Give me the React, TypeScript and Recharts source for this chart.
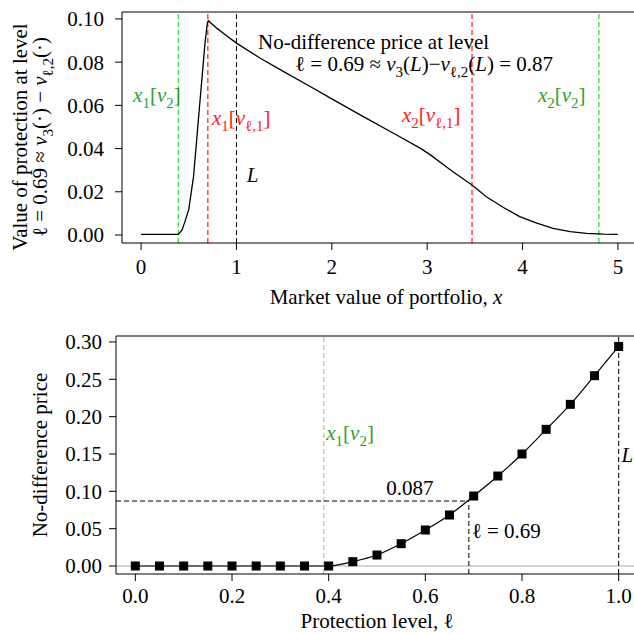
import React from 'react'
import { LineChart, Line, XAxis, YAxis, ReferenceLine, ReferenceDot } from 'recharts'

const FONT = 'Liberation Serif, Times New Roman, DejaVu Serif, serif'
const RED = '#ff1a1a'
const GREEN_LINE = '#2fd42f'
const GREEN_TEXT = '#2ca02c'
const FS = 21
const SUB = 15

// top panel: value of protection against market value x
const marketX = [0, 0.39, 0.43, 0.46, 0.5, 0.55, 0.58, 0.61, 0.64, 0.67, 0.695, 0.705, 0.8, 0.9, 1.0, 1.25, 1.5, 1.75, 2.0, 2.33, 2.68, 2.93, 3.03, 3.27, 3.47, 3.62, 3.8, 3.97, 4.15, 4.32, 4.5, 4.67, 4.85, 5.0]
const protectionValue = [0.0003, 0.0003, 0.0023, 0.0062, 0.0118, 0.027, 0.0424, 0.058, 0.0733, 0.0887, 0.098, 0.0992, 0.0955, 0.0921, 0.0888, 0.0818, 0.0755, 0.0693, 0.063, 0.0548, 0.0463, 0.0401, 0.0372, 0.0293, 0.0231, 0.0177, 0.0127, 0.0085, 0.0055, 0.0031, 0.0016, 0.0008, 0.0004, 0.0003]
const topXTicks = [0, 1, 2, 3, 4, 5]
const topYTicks = [0, 0.02, 0.04, 0.06, 0.08, 0.1]
const topXDomain = [-0.2, 5.2]
const topYDomain = [-0.0037, 0.1032]

// bottom panel: no-difference price against protection level
const levels = [0, 0.05, 0.1, 0.15, 0.2, 0.25, 0.3, 0.35, 0.4, 0.45, 0.5, 0.55, 0.6, 0.65, 0.7, 0.75, 0.8, 0.85, 0.9, 0.95, 1.0]
const noDiffPrice = [0, 0, 0, 0, 0, 0, 0, 0, 0, 0.0058, 0.0147, 0.0299, 0.0482, 0.0683, 0.0937, 0.1205, 0.15, 0.183, 0.2165, 0.2549, 0.294]
const bottomXTicks = [0, 0.2, 0.4, 0.6, 0.8, 1]
const bottomYTicks = [0, 0.05, 0.1, 0.15, 0.2, 0.25, 0.3]
const bottomXDomain = [-0.04, 1.04]
const bottomYDomain = [-0.0107, 0.308]

const topData = marketX.map((x, i) => ({ x, v: protectionValue[i] }))
const bottomData = levels.map((l, i) => ({ l, p: noDiffPrice[i] }))

const dash = '5 3'

const note = (content: React.ReactNode, fill = '#000') => (props: any) => {
  const vb = props.viewBox || {}
  return (
    <text x={vb.x} y={vb.y} fill={fill} fontSize={FS} fontFamily={FONT}>
      {content}
    </text>
  )
}

const I = ({ children }: { children: React.ReactNode }) => <tspan fontStyle="italic">{children}</tspan>

// x_i[v_2]
const xv2 = (i: string) => (
  <>
    <I>x</I>
    <tspan dy={6} fontSize={SUB}>{i}</tspan>
    <tspan dy={-6}>[</tspan>
    <I>v</I>
    <tspan dy={6} fontSize={SUB}>2</tspan>
    <tspan dy={-6}>]</tspan>
  </>
)

// x_i[v_{l,1}]
const xvl1 = (i: string) => (
  <>
    <I>x</I>
    <tspan dy={6} fontSize={SUB}>{i}</tspan>
    <tspan dy={-6}>[</tspan>
    <I>v</I>
    <tspan dy={6} fontSize={SUB}>ℓ,1</tspan>
    <tspan dy={-6}>]</tspan>
  </>
)

const TopYLabel = () => (
  <g fontFamily={FONT} fontSize={FS} fill="#000">
    <text x={27} y={137} textAnchor="middle" transform="rotate(-90, 27, 137)">
      Value of protection at level
    </text>
    <text x={47} y={137} textAnchor="middle" transform="rotate(-90, 47, 137)">
      ℓ = 0.69 ≈ <I>v</I>
      <tspan dy={6} fontSize={SUB}>3</tspan>
      <tspan dy={-6}>(·) − </tspan>
      <I>v</I>
      <tspan dy={6} fontSize={SUB}>ℓ,2</tspan>
      <tspan dy={-6}>(·)</tspan>
    </text>
  </g>
)

const TopXLabel = () => (
  <text x={386} y={304} textAnchor="middle" fontFamily={FONT} fontSize={FS} fill="#000">
    Market value of portfolio, <I>x</I>
  </text>
)

const BottomYLabel = () => (
  <text x={47} y={145} textAnchor="middle" transform="rotate(-90, 47, 145)" fontFamily={FONT} fontSize={FS} fill="#000">
    No-difference price
  </text>
)

const BottomXLabel = () => (
  <text x={377} y={318} textAnchor="middle" fontFamily={FONT} fontSize={FS} fill="#000">
    Protection level, ℓ
  </text>
)

const Square = (props: any) => {
  const { cx, cy, index } = props
  if (cx == null || cy == null) return <g key={index} />
  return <rect key={index} x={cx - 4.5} y={cy - 4.5} width={9} height={9} fill="#000" />
}

const tickStyle = { fontSize: FS, fill: '#000', fontFamily: FONT }

export default function App() {
  return (
    <div
      style={{
        position: 'fixed',
        left: 0,
        top: 0,
        width: 634,
        height: 634,
        overflow: 'hidden',
        background: '#fff',
        fontFamily: FONT,
      }}
    >
      <LineChart width={640} height={310} data={topData} margin={{ top: 12, right: 3, bottom: 0, left: 0 }}>
        <XAxis
          dataKey="x"
          type="number"
          domain={topXDomain}
          allowDataOverflow
          ticks={topXTicks}
          interval={0}
          height={67}
          tickSize={7}
          tickMargin={9}
          tick={tickStyle}
          stroke="#000"
          label={TopXLabel}
        />
        <YAxis
          type="number"
          domain={topYDomain}
          allowDataOverflow
          ticks={topYTicks}
          interval={0}
          width={122}
          tickSize={7}
          tickMargin={11}
          tick={tickStyle}
          tickFormatter={(v: number) => v.toFixed(2)}
          stroke="#000"
          label={TopYLabel}
        />
        <ReferenceLine y={topYDomain[1]} stroke="#000" ifOverflow="visible" />
        <ReferenceLine x={0.39} stroke={GREEN_LINE} strokeWidth={1.2} strokeDasharray={dash} />
        <ReferenceLine x={4.8} stroke={GREEN_LINE} strokeWidth={1.2} strokeDasharray={dash} />
        <ReferenceLine x={0.7} stroke={RED} strokeWidth={1.2} strokeDasharray={dash} />
        <ReferenceLine x={3.47} stroke={RED} strokeWidth={1.2} strokeDasharray={dash} />
        <ReferenceLine x={1} stroke="#000" strokeDasharray={dash} />
        <Line
          dataKey="v"
          type="linear"
          stroke="#000"
          strokeWidth={1.3}
          dot={false}
          activeDot={false}
          isAnimationActive={false}
        />
        <ReferenceDot x={1.226} y={0.0861} r={0} stroke="none" fill="none" label={note('No-difference price at level')} />
        <ReferenceDot
          x={1.614}
          y={0.0761}
          r={0}
          stroke="none"
          fill="none"
          label={note(
            <>
              ℓ = 0.69 ≈ <I>v</I>
              <tspan dy={6} fontSize={SUB}>3</tspan>
              <tspan dy={-6}>(</tspan>
              <I>L</I>
              <tspan>)−</tspan>
              <I>v</I>
              <tspan dy={6} fontSize={SUB}>ℓ,2</tspan>
              <tspan dy={-6}>(</tspan>
              <I>L</I>
              <tspan>) = 0.87</tspan>
            </>
          )}
        />
        <ReferenceDot x={-0.084} y={0.0616} r={0} stroke="none" fill="none" label={note(xv2('1'), GREEN_TEXT)} />
        <ReferenceDot x={4.161} y={0.0616} r={0} stroke="none" fill="none" label={note(xv2('2'), GREEN_TEXT)} />
        <ReferenceDot x={0.744} y={0.0509} r={0} stroke="none" fill="none" label={note(xvl1('1'), RED)} />
        <ReferenceDot x={2.736} y={0.0523} r={0} stroke="none" fill="none" label={note(xvl1('2'), RED)} />
        <ReferenceDot x={1.108} y={0.0247} r={0} stroke="none" fill="none" label={note(<I>L</I>)} />
      </LineChart>

      <LineChart width={641} height={324} data={bottomData} margin={{ top: 26, right: 3, bottom: 0, left: 0 }}>
        <XAxis
          dataKey="l"
          type="number"
          domain={bottomXDomain}
          allowDataOverflow
          ticks={bottomXTicks}
          interval={0}
          height={60}
          tickSize={7}
          tickMargin={7}
          tick={tickStyle}
          tickFormatter={(v: number) => v.toFixed(1)}
          stroke="#000"
          label={BottomXLabel}
        />
        <YAxis
          type="number"
          domain={bottomYDomain}
          allowDataOverflow
          ticks={bottomYTicks}
          interval={0}
          width={116}
          tickSize={7}
          tickMargin={7}
          tick={tickStyle}
          tickFormatter={(v: number) => v.toFixed(2)}
          stroke="#000"
          label={BottomYLabel}
        />
        <ReferenceLine y={bottomYDomain[1]} stroke="#000" ifOverflow="visible" />
        <ReferenceLine y={0} stroke="#aaaaaa" strokeWidth={1.2} />
        <ReferenceLine x={0.39} stroke="#aaaaaa" strokeDasharray={dash} />
        <ReferenceLine
          segment={[
            { x: bottomXDomain[0], y: 0.087 },
            { x: 0.69, y: 0.087 },
          ]}
          stroke="#000"
          strokeDasharray={dash}
        />
        <ReferenceLine
          segment={[
            { x: 0.69, y: bottomYDomain[0] },
            { x: 0.69, y: 0.087 },
          ]}
          stroke="#000"
          strokeDasharray={dash}
        />
        <ReferenceLine x={1} stroke="#000" strokeDasharray={dash} />
        <Line
          dataKey="p"
          type="monotone"
          stroke="#000"
          strokeWidth={1.2}
          dot={Square}
          activeDot={false}
          isAnimationActive={false}
        />
        <ReferenceDot x={0.395} y={0.1687} r={0} stroke="none" fill="none" label={note(xv2('1'), GREEN_TEXT)} />
        <ReferenceDot x={0.519} y={0.0951} r={0} stroke="none" fill="none" label={note('0.087')} />
        <ReferenceDot x={0.696} y={0.0375} r={0} stroke="none" fill="none" label={note('ℓ = 0.69')} />
        <ReferenceDot x={1.006} y={0.1397} r={0} stroke="none" fill="none" label={note(<I>L</I>)} />
      </LineChart>
    </div>
  )
}
